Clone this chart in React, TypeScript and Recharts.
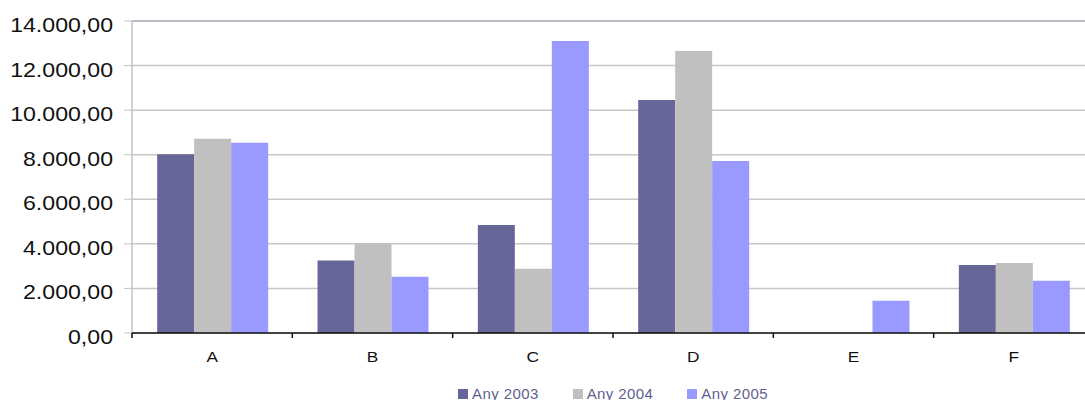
import React from "react";
import {
  BarChart,
  Bar,
  XAxis,
  YAxis,
  CartesianGrid,
  Legend,
  ReferenceLine,
} from "recharts";

// values
const categories = ["A", "B", "C", "D", "E", "F"];
const any2003 = [8020, 3250, 4850, 10450, 0, 3050];
const any2004 = [8720, 4020, 2880, 12650, 0, 3140];
const any2005 = [8540, 2520, 13100, 7720, 1450, 2340];
const yTicks = [0, 2000, 4000, 6000, 8000, 10000, 12000, 14000];

const seriesNames = ["Any 2003", "Any 2004", "Any 2005"];
const seriesColors = ["#666699", "#C0C0C0", "#9999FF"];

const data = categories.map((name, i) => ({
  name,
  a2003: any2003[i],
  a2004: any2004[i],
  a2005: any2005[i],
}));

const FONT = "'Liberation Sans', Arial, sans-serif";
const BAND = 962 / categories.length;

// 14000 -> "14.000,00"
function fmt(v: number) {
  const int = Math.floor(v)
    .toString()
    .replace(/\B(?=(\d{3})+(?!\d))/g, ".");
  return int + ",00";
}

function YTick(props: any) {
  const { x, y, payload } = props;
  return (
    <text
      transform={`translate(${x},${y + 11}) scale(1.157,1)`}
      textAnchor="end"
      fontFamily={FONT}
      fontSize={20}
      fill="#111"
    >
      {fmt(payload.value)}
    </text>
  );
}

function XTick(props: any) {
  const { x, y, payload } = props;
  const edge = x - BAND / 2;
  return (
    <g>
      <line x1={edge} x2={edge} y1={y} y2={y + 5} stroke="#111" strokeWidth={1.5} />
      <text
        transform={`translate(${x},${y + 29}) scale(1.15,1)`}
        textAnchor="middle"
        fontFamily={FONT}
        fontSize={15}
        fill="#111"
      >
        {payload.value}
      </text>
    </g>
  );
}

function LegendBox() {
  return (
    <div
      style={{
        height: 27,
        paddingTop: 13,
        boxSizing: "border-box",
        display: "flex",
        justifyContent: "center",
        fontFamily: FONT,
        fontSize: 15,
        lineHeight: "15px",
        color: "#5f5f90",
        whiteSpace: "nowrap",
      }}
    >
      {seriesNames.map((n, i) => (
        <span key={n} style={{ marginLeft: i === 0 ? 0 : 34 }}>
          <span
            style={{
              display: "inline-block",
              width: 10,
              height: 10,
              background: seriesColors[i],
              marginRight: 4,
            }}
          />
          <span style={{ letterSpacing: 0.4 }}>{n}</span>
        </span>
      ))}
    </div>
  );
}

export default function App() {
  return (
    <div
      style={{
        position: "absolute",
        left: 0,
        top: 0,
        width: 1085,
        height: 400,
        overflow: "hidden",
        background: "#fff",
      }}
    >
      <BarChart
        width={1100}
        height={400}
        data={data}
        margin={{ top: 21, right: 6, left: 0, bottom: 0 }}
        barCategoryGap="15.7%"
        barGap={0}
      >
        <CartesianGrid vertical={false} stroke="#c8c8c8" strokeWidth={1.5} />
        <ReferenceLine y={14000} stroke="#bdbcc9" strokeWidth={2} />
        <YAxis
          width={132}
          domain={[0, 14000]}
          ticks={yTicks}
          interval={0}
          axisLine={{ stroke: "#c4c4c4", strokeWidth: 1.5 }}
          tickLine={{ stroke: "#c4c4c4" }}
          tickSize={8}
          tickMargin={11}
          tick={<YTick />}
        />
        <XAxis
          dataKey="name"
          height={40}
          axisLine={{ stroke: "#111", strokeWidth: 1.5 }}
          tickLine={false}
          tickSize={0}
          tickMargin={0}
          interval={0}
          tick={<XTick />}
        />
        <Legend
          verticalAlign="bottom"
          content={<LegendBox />}
          wrapperStyle={{ left: 132, width: 962, height: 27 }}
        />
        <Bar dataKey="a2003" name={seriesNames[0]} fill={seriesColors[0]} isAnimationActive={false} />
        <Bar dataKey="a2004" name={seriesNames[1]} fill={seriesColors[1]} isAnimationActive={false} />
        <Bar dataKey="a2005" name={seriesNames[2]} fill={seriesColors[2]} isAnimationActive={false} />
      </BarChart>
    </div>
  );
}
